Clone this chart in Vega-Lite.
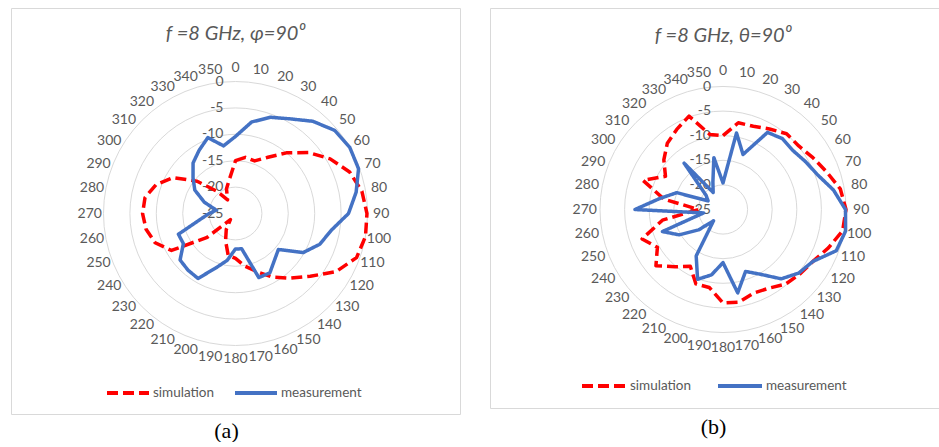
{
 "$schema": "https://vega.github.io/schema/vega-lite/v6.json",
 "background": "white",
 "padding": {"left": 10, "top": 7, "right": 0, "bottom": 0},
 "spacing": 28,
 "config": {"view": {"stroke": "#d9d9d9", "strokeWidth": 1}, "font": "Lato"},
 "datasets": {
  "seriesA": [
   {"series":"simulation","angle":0,"dB":-15},{"series":"simulation","angle":10,"dB":-14.2},{"series":"simulation","angle":20,"dB":-14.4},{"series":"simulation","angle":30,"dB":-12.7},{"series":"simulation","angle":40,"dB":-10},{"series":"simulation","angle":50,"dB":-7},{"series":"simulation","angle":60,"dB":-4.3},{"series":"simulation","angle":70,"dB":-2},{"series":"simulation","angle":80,"dB":-0.7},{"series":"simulation","angle":90,"dB":-0.1},{"series":"simulation","angle":100,"dB":0},{"series":"simulation","angle":110,"dB":-0.6},{"series":"simulation","angle":120,"dB":-3},{"series":"simulation","angle":130,"dB":-6.5},{"series":"simulation","angle":140,"dB":-9},{"series":"simulation","angle":150,"dB":-11.1},{"series":"simulation","angle":160,"dB":-13.3},{"series":"simulation","angle":170,"dB":-14.9},{"series":"simulation","angle":180,"dB":-16.5},{"series":"simulation","angle":190,"dB":-17},{"series":"simulation","angle":200,"dB":-19.5},{"series":"simulation","angle":210,"dB":-21.5},{"series":"simulation","angle":220,"dB":-23.5},{"series":"simulation","angle":230,"dB":-18},{"series":"simulation","angle":240,"dB":-11},{"series":"simulation","angle":250,"dB":-8.8},{"series":"simulation","angle":260,"dB":-7.8},{"series":"simulation","angle":270,"dB":-7.4},{"series":"simulation","angle":280,"dB":-7.6},{"series":"simulation","angle":290,"dB":-9},{"series":"simulation","angle":300,"dB":-11.4},{"series":"simulation","angle":310,"dB":-15.5},{"series":"simulation","angle":320,"dB":-19.5},{"series":"simulation","angle":330,"dB":-22},{"series":"simulation","angle":340,"dB":-20},{"series":"simulation","angle":350,"dB":-18.4},
   {"series":"measurement","angle":0,"dB":-10.4},{"series":"measurement","angle":10,"dB":-7.4},{"series":"measurement","angle":20,"dB":-5.6},{"series":"measurement","angle":30,"dB":-4.3},{"series":"measurement","angle":40,"dB":-2.2},{"series":"measurement","angle":50,"dB":-0.5},{"series":"measurement","angle":60,"dB":0},{"series":"measurement","angle":70,"dB":-0.2},{"series":"measurement","angle":80,"dB":-1.8},{"series":"measurement","angle":90,"dB":-3.6},{"series":"measurement","angle":100,"dB":-6.6},{"series":"measurement","angle":110,"dB":-8},{"series":"measurement","angle":120,"dB":-10.2},{"series":"measurement","angle":130,"dB":-14.4},{"series":"measurement","angle":140,"dB":-13.5},{"series":"measurement","angle":150,"dB":-12},{"series":"measurement","angle":160,"dB":-12.1},{"series":"measurement","angle":170,"dB":-18.2},{"series":"measurement","angle":180,"dB":-18.3},{"series":"measurement","angle":190,"dB":-16},{"series":"measurement","angle":200,"dB":-14},{"series":"measurement","angle":210,"dB":-10.8},{"series":"measurement","angle":220,"dB":-11},{"series":"measurement","angle":230,"dB":-11.3},{"series":"measurement","angle":240,"dB":-13.6},{"series":"measurement","angle":250,"dB":-13.5},{"series":"measurement","angle":260,"dB":-18.1},{"series":"measurement","angle":270,"dB":-20},{"series":"measurement","angle":280,"dB":-21.3},{"series":"measurement","angle":290,"dB":-18.7},{"series":"measurement","angle":300,"dB":-16.1},{"series":"measurement","angle":310,"dB":-14.5},{"series":"measurement","angle":320,"dB":-12.5},{"series":"measurement","angle":330,"dB":-11.2},{"series":"measurement","angle":340,"dB":-9.7},{"series":"measurement","angle":350,"dB":-12}
  ],
  "seriesB": [
   {"series":"simulation","angle":0,"dB":-10},{"series":"simulation","angle":10,"dB":-7.1},{"series":"simulation","angle":20,"dB":-7},{"series":"simulation","angle":30,"dB":-6.1},{"series":"simulation","angle":40,"dB":-4.9},{"series":"simulation","angle":50,"dB":-4.9},{"series":"simulation","angle":60,"dB":-3.9},{"series":"simulation","angle":70,"dB":-2.6},{"series":"simulation","angle":80,"dB":-0.8},{"series":"simulation","angle":90,"dB":0},{"series":"simulation","angle":100,"dB":-0.3},{"series":"simulation","angle":110,"dB":-2.2},{"series":"simulation","angle":120,"dB":-3.9},{"series":"simulation","angle":130,"dB":-4.6},{"series":"simulation","angle":140,"dB":-5.2},{"series":"simulation","angle":150,"dB":-6.5},{"series":"simulation","angle":160,"dB":-6.9},{"series":"simulation","angle":170,"dB":-5.9},{"series":"simulation","angle":180,"dB":-6},{"series":"simulation","angle":190,"dB":-8.9},{"series":"simulation","angle":200,"dB":-8.9},{"series":"simulation","angle":210,"dB":-11.7},{"series":"simulation","angle":220,"dB":-9.8},{"series":"simulation","angle":230,"dB":-7.2},{"series":"simulation","angle":240,"dB":-9.6},{"series":"simulation","angle":250,"dB":-7.5},{"series":"simulation","angle":260,"dB":-12.5},{"series":"simulation","angle":270,"dB":-20},{"series":"simulation","angle":280,"dB":-12.8},{"series":"simulation","angle":290,"dB":-7.7},{"series":"simulation","angle":300,"dB":-11.5},{"series":"simulation","angle":310,"dB":-9.3},{"series":"simulation","angle":320,"dB":-7.4},{"series":"simulation","angle":330,"dB":-6.2},{"series":"simulation","angle":340,"dB":-4.8},{"series":"simulation","angle":350,"dB":-9.5},
   {"series":"measurement","angle":0,"dB":-19.6},{"series":"measurement","angle":10,"dB":-9.2},{"series":"measurement","angle":20,"dB":-13.1},{"series":"measurement","angle":30,"dB":-6.9},{"series":"measurement","angle":40,"dB":-6.2},{"series":"measurement","angle":50,"dB":-6.4},{"series":"measurement","angle":60,"dB":-5.6},{"series":"measurement","angle":70,"dB":-4.5},{"series":"measurement","angle":80,"dB":-2.2},{"series":"measurement","angle":90,"dB":-0.1},{"series":"measurement","angle":100,"dB":0.3},{"series":"measurement","angle":110,"dB":-0.5},{"series":"measurement","angle":120,"dB":-3.9},{"series":"measurement","angle":130,"dB":-4.9},{"series":"measurement","angle":140,"dB":-6.6},{"series":"measurement","angle":150,"dB":-9.8},{"series":"measurement","angle":160,"dB":-11.6},{"series":"measurement","angle":170,"dB":-7.8},{"series":"measurement","angle":180,"dB":-14.2},{"series":"measurement","angle":190,"dB":-11.5},{"series":"measurement","angle":200,"dB":-9.9},{"series":"measurement","angle":210,"dB":-14.1},{"series":"measurement","angle":220,"dB":-22},{"series":"measurement","angle":230,"dB":-18.6},{"series":"measurement","angle":240,"dB":-14.7},{"series":"measurement","angle":250,"dB":-11.9},{"series":"measurement","angle":260,"dB":-21},{"series":"measurement","angle":270,"dB":-7.1},{"series":"measurement","angle":280,"dB":-12},{"series":"measurement","angle":290,"dB":-15},{"series":"measurement","angle":300,"dB":-21.5},{"series":"measurement","angle":310,"dB":-20.5},{"series":"measurement","angle":320,"dB":-12.7},{"series":"measurement","angle":330,"dB":-21},{"series":"measurement","angle":340,"dB":-19},{"series":"measurement","angle":350,"dB":-14.3}
  ],
  "rings": [{"dB":-25},{"dB":-20},{"dB":-15},{"dB":-10},{"dB":-5},{"dB":0}],
  "angles": [{"angle":0},{"angle":10},{"angle":20},{"angle":30},{"angle":40},{"angle":50},{"angle":60},{"angle":70},{"angle":80},{"angle":90},{"angle":100},{"angle":110},{"angle":120},{"angle":130},{"angle":140},{"angle":150},{"angle":160},{"angle":170},{"angle":180},{"angle":190},{"angle":200},{"angle":210},{"angle":220},{"angle":230},{"angle":240},{"angle":250},{"angle":260},{"angle":270},{"angle":280},{"angle":290},{"angle":300},{"angle":310},{"angle":320},{"angle":330},{"angle":340},{"angle":350}]
 },
 "hconcat": [
  {
   "width": 449, "height": 406,
   "layer": [
    {
     "data": {"name": "rings"},
     "transform": [{"calculate": "datum.dB + 25", "as": "r"}, {"filter": "datum.r > 0"}],
     "mark": {"type": "point", "shape": "circle", "filled": false, "stroke": "#d9d9d9", "strokeWidth": 1, "opacity": 1},
     "encoding": {
      "x": {"datum": 0, "type": "quantitative", "scale": {"domain": [-42.52, 42.52], "nice": false, "zero": false}, "axis": {"title": "(a)", "labels": false, "ticks": false, "domain": false, "grid": false, "titleFont": "Liberation Serif", "titleFontSize": 22, "titleFontWeight": "normal", "titleColor": "#000000", "titlePadding": 6, "titleX": 215}},
      "y": {"datum": 0, "type": "quantitative", "scale": {"domain": [-37.97, 38.92], "nice": false, "zero": false}, "axis": null},
      "size": {"field": "r", "type": "quantitative", "scale": {"type": "pow", "exponent": 2, "domain": [0, 25], "range": [0, 69696]}, "legend": null}
     }
    },
    {
     "data": {"name": "rings"},
     "transform": [{"calculate": "datum.dB + 25", "as": "r"}],
     "mark": {"type": "text", "align": "right", "baseline": "middle", "dx": -12, "fontSize": 14, "color": "#595959"},
     "encoding": {
      "x": {"datum": 0, "type": "quantitative", "scale": {"domain": [-42.52, 42.52], "nice": false, "zero": false}},
      "y": {"field": "r", "type": "quantitative", "scale": {"domain": [-37.97, 38.92], "nice": false, "zero": false}},
      "text": {"field": "dB", "type": "nominal"}
     }
    },
    {
     "data": {"name": "angles"},
     "transform": [{"calculate": "27.6 * sin(datum.angle * PI / 180)", "as": "px"}, {"calculate": "27.6 * cos(datum.angle * PI / 180)", "as": "py"}],
     "mark": {"type": "text", "align": "center", "baseline": "middle", "fontSize": 14, "color": "#595959"},
     "encoding": {
      "x": {"field": "px", "type": "quantitative", "scale": {"domain": [-42.52, 42.52], "nice": false, "zero": false}},
      "y": {"field": "py", "type": "quantitative", "scale": {"domain": [-37.97, 38.92], "nice": false, "zero": false}},
      "text": {"field": "angle", "type": "nominal"}
     }
    },
    {
     "data": {"name": "seriesA"},
     "transform": [{"calculate": "(datum.dB + 25) * sin(datum.angle * PI / 180)", "as": "px"}, {"calculate": "(datum.dB + 25) * cos(datum.angle * PI / 180)", "as": "py"}],
     "mark": {"type": "line", "interpolate": "linear-closed", "strokeWidth": 3.5, "strokeJoin": "round"},
     "encoding": {
      "x": {"field": "px", "type": "quantitative", "scale": {"domain": [-42.52, 42.52], "nice": false, "zero": false}},
      "y": {"field": "py", "type": "quantitative", "scale": {"domain": [-37.97, 38.92], "nice": false, "zero": false}},
      "order": {"field": "angle", "type": "quantitative"},
      "color": {"field": "series", "type": "nominal", "scale": {"domain": ["simulation", "measurement"], "range": ["#FF0000", "#4472C4"]}, "legend": {"title": null, "orient": "none", "legendX": 94, "legendY": 362, "direction": "horizontal", "symbolType": "stroke", "symbolSize": 1764, "symbolStrokeWidth": 4, "labelFontSize": 13.5, "labelColor": "#595959", "labelFont": "Lato", "columnPadding": 12, "labelOffset": 2, "padding": 0}},
      "strokeDash": {"field": "series", "type": "nominal", "scale": {"domain": ["simulation", "measurement"], "range": [[11, 5], [1, 0]]}, "legend": {"title": null, "orient": "none", "legendX": 94, "legendY": 362, "direction": "horizontal", "symbolType": "stroke", "symbolSize": 1764, "symbolStrokeWidth": 4, "labelFontSize": 13.5, "labelColor": "#595959", "labelFont": "Lato", "columnPadding": 12, "labelOffset": 2, "padding": 0}}
     }
    },
    {
     "data": {"values": [{"title": "f =8 GHz, φ=90⁰"}]},
     "mark": {"type": "text", "align": "center", "baseline": "middle", "fontSize": 20, "fontStyle": "italic", "color": "#595959"},
     "encoding": {
      "x": {"datum": 0, "type": "quantitative", "scale": {"domain": [-42.52, 42.52], "nice": false, "zero": false}},
      "y": {"datum": 34, "type": "quantitative", "scale": {"domain": [-37.97, 38.92], "nice": false, "zero": false}},
      "text": {"field": "title", "type": "nominal"}
     }
    }
   ],
   "resolve": {"legend": {"color": "shared", "strokeDash": "shared"}}
  },
  {
   "width": 451, "height": 400,
   "layer": [
    {
     "data": {"name": "rings"},
     "transform": [{"calculate": "datum.dB + 25", "as": "r"}, {"filter": "datum.r > 0"}],
     "mark": {"type": "point", "shape": "circle", "filled": false, "stroke": "#d9d9d9", "strokeWidth": 1, "opacity": 1},
     "encoding": {
      "x": {"datum": 0, "type": "quantitative", "scale": {"domain": [-47.36, 44.31], "nice": false, "zero": false}, "axis": {"title": "(b)", "labels": false, "ticks": false, "domain": false, "grid": false, "titleFont": "Liberation Serif", "titleFontSize": 22, "titleFontWeight": "normal", "titleColor": "#000000", "titlePadding": 8, "titleX": 223}},
      "y": {"datum": 0, "type": "quantitative", "scale": {"domain": [-40.35, 40.96], "nice": false, "zero": false}, "axis": null},
      "size": {"field": "r", "type": "quantitative", "scale": {"type": "pow", "exponent": 2, "domain": [0, 25], "range": [0, 60516]}, "legend": null}
     }
    },
    {
     "data": {"name": "rings"},
     "transform": [{"calculate": "datum.dB + 25", "as": "r"}],
     "mark": {"type": "text", "align": "right", "baseline": "middle", "dx": -12, "fontSize": 14, "color": "#595959"},
     "encoding": {
      "x": {"datum": 0, "type": "quantitative", "scale": {"domain": [-47.36, 44.31], "nice": false, "zero": false}},
      "y": {"field": "r", "type": "quantitative", "scale": {"domain": [-40.35, 40.96], "nice": false, "zero": false}},
      "text": {"field": "dB", "type": "nominal"}
     }
    },
    {
     "data": {"name": "angles"},
     "transform": [{"calculate": "28.1 * sin(datum.angle * PI / 180)", "as": "px"}, {"calculate": "28.1 * cos(datum.angle * PI / 180)", "as": "py"}],
     "mark": {"type": "text", "align": "center", "baseline": "middle", "fontSize": 14, "color": "#595959"},
     "encoding": {
      "x": {"field": "px", "type": "quantitative", "scale": {"domain": [-47.36, 44.31], "nice": false, "zero": false}},
      "y": {"field": "py", "type": "quantitative", "scale": {"domain": [-40.35, 40.96], "nice": false, "zero": false}},
      "text": {"field": "angle", "type": "nominal"}
     }
    },
    {
     "data": {"name": "seriesB"},
     "transform": [{"calculate": "(datum.dB + 25) * sin(datum.angle * PI / 180)", "as": "px"}, {"calculate": "(datum.dB + 25) * cos(datum.angle * PI / 180)", "as": "py"}],
     "mark": {"type": "line", "interpolate": "linear-closed", "strokeWidth": 3.5, "strokeJoin": "round"},
     "encoding": {
      "x": {"field": "px", "type": "quantitative", "scale": {"domain": [-47.36, 44.31], "nice": false, "zero": false}},
      "y": {"field": "py", "type": "quantitative", "scale": {"domain": [-40.35, 40.96], "nice": false, "zero": false}},
      "order": {"field": "angle", "type": "quantitative"},
      "color": {"field": "series", "type": "nominal", "scale": {"domain": ["simulation", "measurement"], "range": ["#FF0000", "#4472C4"]}, "legend": {"title": null, "orient": "none", "legendX": 90, "legendY": 354, "direction": "horizontal", "symbolType": "stroke", "symbolSize": 1936, "symbolStrokeWidth": 4, "labelFontSize": 13.5, "labelColor": "#595959", "labelFont": "Lato", "columnPadding": 18, "labelOffset": 2, "padding": 0}},
      "strokeDash": {"field": "series", "type": "nominal", "scale": {"domain": ["simulation", "measurement"], "range": [[11, 5], [1, 0]]}, "legend": {"title": null, "orient": "none", "legendX": 90, "legendY": 354, "direction": "horizontal", "symbolType": "stroke", "symbolSize": 1936, "symbolStrokeWidth": 4, "labelFontSize": 13.5, "labelColor": "#595959", "labelFont": "Lato", "columnPadding": 18, "labelOffset": 2, "padding": 0}}
     }
    },
    {
     "data": {"values": [{"title": "f =8 GHz, θ=90⁰"}]},
     "mark": {"type": "text", "align": "center", "baseline": "middle", "fontSize": 20, "fontStyle": "italic", "color": "#595959"},
     "encoding": {
      "x": {"datum": 0, "type": "quantitative", "scale": {"domain": [-47.36, 44.31], "nice": false, "zero": false}},
      "y": {"datum": 35.3, "type": "quantitative", "scale": {"domain": [-40.35, 40.96], "nice": false, "zero": false}},
      "text": {"field": "title", "type": "nominal"}
     }
    }
   ]
  }
 ],
 "resolve": {
  "scale": {"x": "independent", "y": "independent", "size": "independent", "color": "independent", "strokeDash": "independent"},
  "legend": {"color": "independent", "strokeDash": "independent", "size": "independent"}
 }
}
